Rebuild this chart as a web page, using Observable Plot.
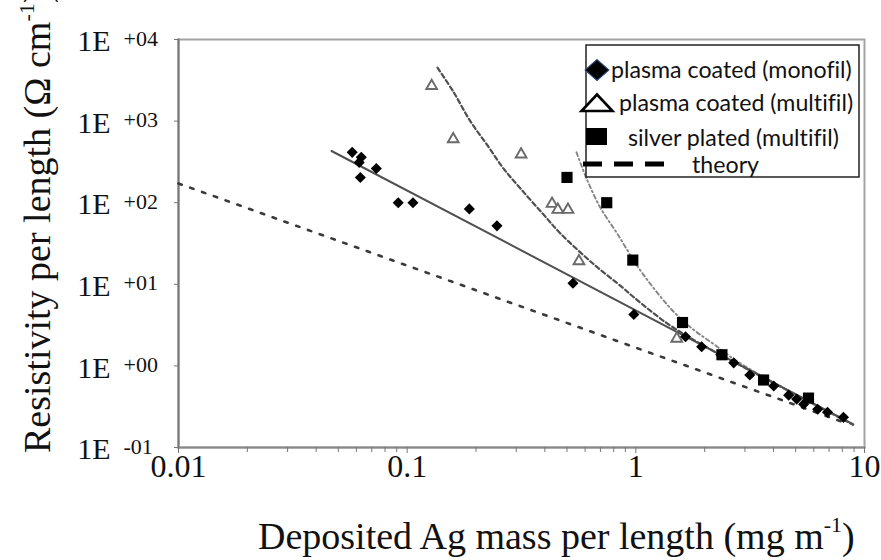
<!DOCTYPE html>
<html>
<head>
<meta charset="utf-8">
<script src="https://cdn.jsdelivr.net/npm/d3@7"></script>
<script src="https://cdn.jsdelivr.net/npm/@observablehq/plot@0.6"></script>
<style>
  body { margin: 0; background: #fff; }
  #chart svg { display: block; }
  #chart svg text { font-variant-ligatures: none; }
</style>
</head>
<body>
<div id="chart"></div>
<script>
// Plasma coated monofilament yarns: deposited Ag mass (mg/m) vs resistivity (Ω/cm)
const monofilX = [0.0575, 0.063, 0.0617, 0.0733, 0.0624, 0.0914, 0.106, 0.187, 0.247, 0.531, 0.98,
                  1.65, 1.94, 2.35, 2.68, 3.15, 3.62, 4.01, 4.66, 5.05, 5.42, 6.24, 6.89, 8.09];
const monofilY = [414, 360, 312, 263, 204, 100, 100, 84, 52, 10.3, 4.26,
                  2.28, 1.72, 1.37, 1.09, 0.774, 0.672, 0.566, 0.438, 0.392, 0.340, 0.294, 0.270, 0.234];

// Plasma coated multifilament yarns
const multifilX = [0.128, 0.159, 0.315, 0.43, 0.456, 0.505, 0.564, 1.51];
const multifilY = [2700, 600, 391, 97, 82, 82, 19.2, 2.16];

// Silver plated multifilament yarns
const silverX = [0.50, 0.746, 0.97, 1.60, 2.38, 3.62, 5.69];
const silverY = [204, 100, 19.8, 3.40, 1.37, 0.672, 0.403];

// Power-law fit through the monofilament data
const fitX = [0.0467, 8.94];
const fitY = [430, 0.192];

// Trend curve for the plasma coated multifilament yarns
const multifilCurveX = [0.1357, 0.1594, 0.1891, 0.2244, 0.2636, 0.313, 0.394, 0.468, 0.653, 0.883, 0.976, 1.375, 1.917, 3.51, 8.9];
const multifilCurveY = [4510, 2280, 990, 506, 263, 149, 72, 42, 17.7, 8.93, 7.0, 3.30, 1.87, 0.75, 0.19];

// Trend curve for the silver plated multifilament yarns
const silverCurveX = [0.550, 0.614, 0.700, 0.831, 1.016, 1.218, 1.460, 1.786, 2.18, 2.67, 4.29, 9.0];
const silverCurveY = [414, 187, 86.7, 41.4, 16.7, 8.43, 4.64, 2.78, 1.87, 1.22, 0.56, 0.19];

// Theoretical resistivity of bulk silver spread along the yarn
const theoryX = [0.01, 8.1];
const theoryY = [172, 0.204];

// Axis ticks and labels
const xTicks = [0.01, 0.1, 1, 10];
const xTickLabels = ["0.01", "0.1", "1", "10"];
const xMinorTicks = [0.02, 0.03, 0.04, 0.05, 0.06, 0.07, 0.08, 0.09,
                     0.2, 0.3, 0.4, 0.5, 0.6, 0.7, 0.8, 0.9,
                     2, 3, 4, 5, 6, 7, 8, 9];
const yTicks = [10000, 1000, 100, 10, 1, 0.1];
const yTickExp = ["+04", "+03", "+02", "+01", "+00", "-01"];

const legendLabels = ["plasma coated (monofil)", "plasma coated (multifil)", "silver plated (multifil)", "theory"];

const serif = "'Liberation Serif', 'Times New Roman', serif";
const sans = "Lato, 'Liberation Sans', sans-serif";

const pts = (xs, ys) => xs.map((x, i) => ({x, y: ys[i]}));

const chart = Plot.plot({
  width: 881,
  height: 560,
  marginLeft: 178,
  marginRight: 17,
  marginTop: 39,
  marginBottom: 113,
  style: {background: "#fff", fontFamily: serif, color: "#111"},
  x: {type: "log", domain: [0.01, 10]},
  y: {type: "log", domain: [0.1, 10000]},
  marks: [
    Plot.frame({stroke: "#a3a3a3", strokeWidth: 2}),
    Plot.frame({anchor: "left", stroke: "#777", strokeWidth: 2}),
    Plot.frame({anchor: "bottom", stroke: "#888", strokeWidth: 2}),
    Plot.axisX({ticks: xMinorTicks, tickSize: 5, tickFormat: () => "", stroke: "#777", label: null}),
    Plot.axisX({ticks: xTicks, tickSize: 6, tickPadding: 1, tickFormat: d => xTickLabels[xTicks.indexOf(d)],
                fontSize: 32, stroke: "#777", fill: "#111", label: null}),
    Plot.axisY({ticks: yTicks, tickSize: 4, tickFormat: () => "", stroke: "#777", label: null}),
    Plot.text(yTicks, {frameAnchor: "left", y: d => d, text: () => "1E", textAnchor: "end",
                       dx: -68, dy: 2, fontSize: 30, fill: "#111"}),
    Plot.text(yTicks, {frameAnchor: "left", y: d => d, text: (d, i) => yTickExp[i], textAnchor: "start",
                       dx: -55, dy: -1, fontSize: 22, fill: "#111"}),

    Plot.line(pts(theoryX, theoryY), {x: "x", y: "y", stroke: "#3a3a3a", strokeWidth: 2.6, strokeDasharray: "3.5,9"}),
    Plot.line(pts(multifilCurveX, multifilCurveY), {x: "x", y: "y", curve: "catmull-rom",
              stroke: "#4f4f4f", strokeWidth: 2.2, strokeDasharray: "4.5,3"}),
    Plot.line(pts(silverCurveX, silverCurveY), {x: "x", y: "y", curve: "catmull-rom",
              stroke: "#858585", strokeWidth: 1.9, strokeDasharray: "4,3,1.5,3"}),
    Plot.line(pts(fitX, fitY), {x: "x", y: "y", stroke: "#505050", strokeWidth: 2}),

    Plot.dot(pts(multifilX, multifilY), {x: "x", y: "y", symbol: "triangle", r: 4,
             fill: "#fff", stroke: "#6a6a6a", strokeWidth: 1.9}),
    Plot.dot(pts(monofilX, monofilY), {x: "x", y: "y", symbol: "diamond2", r: 5, fill: "#000", stroke: "none"}),
    Plot.dot(pts(silverX, silverY), {x: "x", y: "y", symbol: "square", r: 6.3, fill: "#000", stroke: "none"})
  ]
});

document.getElementById("chart").appendChild(chart);

const svg = d3.select(chart);

// Axis titles with superscript units
const yTitle = svg.append("text")
  .attr("transform", "translate(50,453) rotate(-90)")
  .attr("text-anchor", "start")
  .attr("font-family", serif).attr("font-size", 38).attr("fill", "#111");
yTitle.append("tspan").text("Resistivity per length (Ω cm");
yTitle.append("tspan").attr("font-size", 22).attr("dy", -16).text("-1");
yTitle.append("tspan").attr("dy", 16).text(")");

const xTitle = svg.append("text")
  .attr("x", 258).attr("y", 549)
  .attr("text-anchor", "start")
  .attr("font-family", serif).attr("font-size", 38).attr("fill", "#111");
xTitle.append("tspan").text("Deposited Ag mass per length (mg m");
xTitle.append("tspan").attr("font-size", 22).attr("dy", -17).text("-1");
xTitle.append("tspan").attr("dy", 17).text(")");

// Legend
const lg = svg.append("g").attr("font-family", sans).attr("font-size", 23.2)
  .attr("text-anchor", "start").attr("fill", "#111");
lg.append("rect").attr("x", 586).attr("y", 45).attr("width", 273).attr("height", 132)
  .attr("fill", "#fff").attr("stroke", "#222").attr("stroke-width", 1.5);

lg.append("path")
  .attr("d", d3.symbol(d3.symbolDiamond2, 360)())
  .attr("transform", "translate(597,70) scale(1,0.88)")
  .attr("fill", "#000").attr("stroke", "#2c4a86").attr("stroke-width", 1.2);
lg.append("path")
  .attr("d", "M0,-8.5L15.5,8L-15.5,8Z")
  .attr("transform", "translate(597,103)")
  .attr("fill", "#fff").attr("stroke", "#000").attr("stroke-width", 2.6);
lg.append("rect").attr("x", 586).attr("y", 128).attr("width", 21).attr("height", 17).attr("fill", "#000");
lg.append("line").attr("x1", 583).attr("x2", 665).attr("y1", 164).attr("y2", 164)
  .attr("stroke", "#000").attr("stroke-width", 5).attr("stroke-dasharray", "19,12");

const legendPos = [[611, 78], [619, 111], [628, 146], [692, 173]];
legendLabels.forEach((t, i) => {
  lg.append("text").attr("x", legendPos[i][0]).attr("y", legendPos[i][1]).text(t);
});
</script>
</body>
</html>
